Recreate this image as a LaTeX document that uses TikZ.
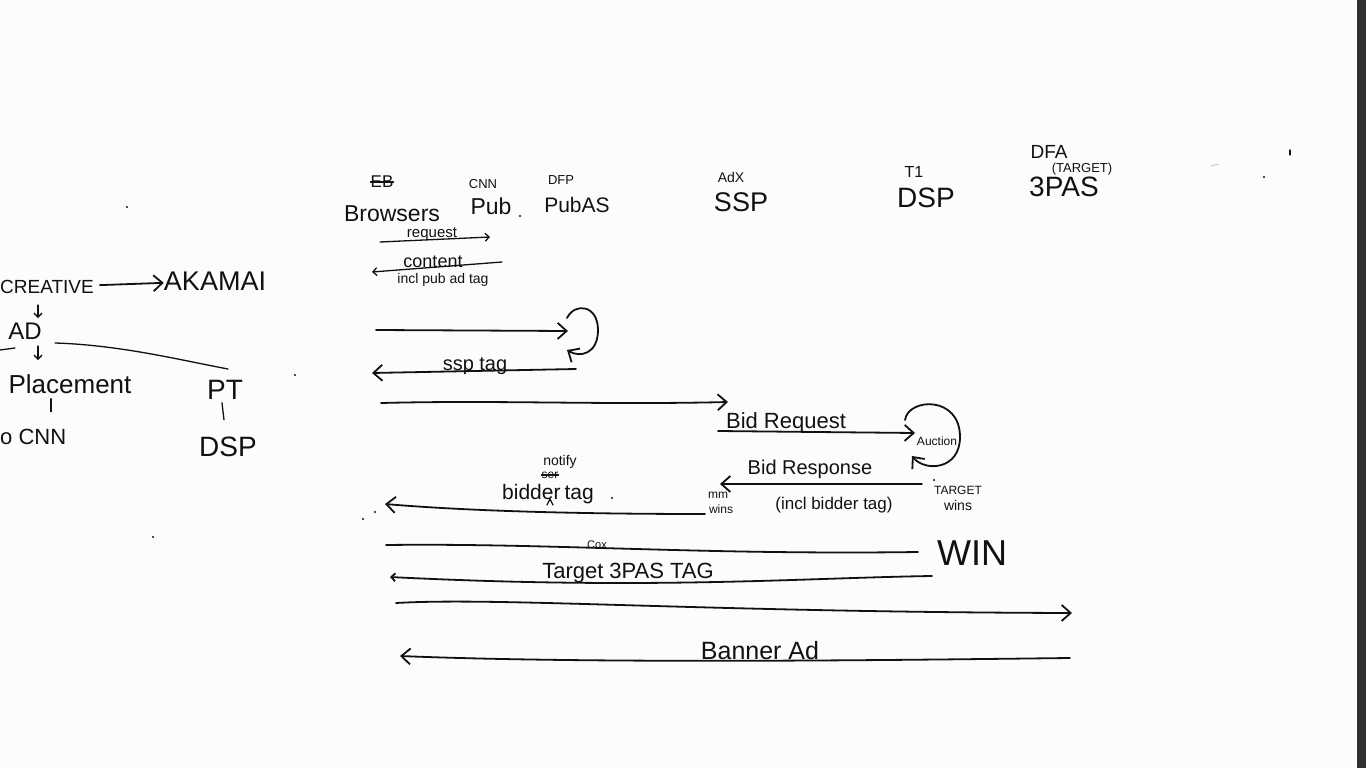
\documentclass[tikz,border=0pt]{standalone}
\usepackage{fontspec}
\setmainfont{Liberation Sans}
\usetikzlibrary{arrows.meta}
\definecolor{inkc}{HTML}{111111}
\definecolor{paperc}{HTML}{FCFCFC}
\definecolor{barc}{HTML}{303030}
\begin{document}
\begin{tikzpicture}[x=1pt,y=-1pt,
  pen/.style={draw=inkc,line width=1.8pt,line cap=round,line join=round},
  thin/.style={draw=inkc,line width=1.3pt,line cap=round,line join=round},
  arr/.style={pen,-{Straight Barb[length=9pt,width=16pt,line width=1.8pt]}},
  arrs/.style={thin,-{Straight Barb[length=4pt,width=8pt,line width=1.3pt]}},
  txt/.style={inner sep=0pt,text=inkc,font=\fontsize{#1}{#1}\selectfont},
  dot/.style={fill=inkc,draw=none}
]
\useasboundingbox (0,0) rectangle (1366,768);
\clip (0,0) rectangle (1366,768);
\fill[paperc] (0,0) rectangle (1366,768);
\fill[barc] (1357,0) rectangle (1366,768);

% ---------- headers ----------
\node[txt=17] (eb) at (382,182) {EB};
\draw[thin] (eb.west) -- (eb.east);
\node[txt=23] (browsers) at (392,214) {Browsers};
\node[txt=13] (cnn) at (483,184) {CNN};
\node[txt=23] (pub) at (491,206) {Pub};
\node[txt=13] (dfp) at (561,180) {DFP};
\node[txt=21] (pubas) at (577,205) {PubAS};
\node[txt=14] (adx) at (731,177) {AdX};
\node[txt=27] (ssp) at (741,202) {SSP};
\node[txt=16] (t1) at (914,172) {T1};
\node[txt=28] (dsp) at (926,198) {DSP};
\node[txt=19] (dfa) at (1049,152) {DFA};
\node[txt=13] (tgt) at (1082,169) {(TARGET)};
\node[txt=28] (tpas) at (1064,187) {3PAS};

% ---------- left tree ----------
\node[txt=19,anchor=west] (creative) at (0,287) {CREATIVE};
\node[txt=27] (akamai) at (215,281) {AKAMAI};
\draw[arr,shorten <=6pt] (creative) -- (akamai);
\node[txt=24] (ad) at (25,331) {AD};
\coordinate (ca1) at (38,305);
\coordinate (ca2) at (38,318);
\draw[arrs] (ca1) -- (ca2);
\node[txt=26] (placement) at (70,384) {Placement};
\coordinate (ap1) at (38,346);
\coordinate (ap2) at (38,360);
\draw[arrs] (ap1) -- (ap2);
\coordinate (ll1) at (0,350);
\coordinate (ll2) at (15,348);
\draw[thin] (ll1) -- (ll2);
\node[txt=28] (pt) at (225,390) {PT};
\coordinate (adr) at (55,343);
\coordinate (ptt) at (228,369);
\draw[thin] (adr) .. controls (120,345) and (180,360) .. (ptt);
\node[txt=22,anchor=west] (tocnn) at (0,437) {o CNN};
\draw[thin] (placement.south) ++(-19,5) -- ++(0,13);
\node[txt=28] (dspl) at (228,447) {DSP};
\draw[thin] (pt.south) ++(-3,3) -- ++(2,17);

% ---------- sequence ----------
% request
\coordinate (reqS) at (380,242);
\coordinate (reqE) at (490,237);
\draw[arrs] (reqS) -- (reqE);
\node[txt=15] (lreq) at (432,234) {request};
% content
\coordinate (conS) at (502,262);
\coordinate (conE) at (372,272);
\draw[arrs] (conS) -- (conE);
\node[txt=18] (lcon) at (433,262) {content};
\node[txt=14] (lincl) at (443,280) {incl pub ad tag};
% to PubAS + loop
\coordinate (a3S) at (376,330);
\coordinate (a3E) at (568,331);
\draw[arr] (a3S) -- (a3E);
\coordinate (lp1) at (567,318);
\coordinate (lp2) at (567,350);
\draw[arr] (lp1) .. controls (575,302) and (598,305) .. (598,330) .. controls (598,354) and (580,358) .. (lp2);
% ssp tag
\coordinate (sspS) at (576,369);
\coordinate (sspE) at (372,373);
\draw[arr] (sspS) -- (sspE);
\node[txt=20] (lssp) at (475,366) {ssp tag};
% to SSP
\coordinate (a5S) at (381,403);
\coordinate (a5E) at (728,402);
\draw[arr] (a5S) .. controls (500,400) and (600,405) .. (a5E);
% bid request + auction
\coordinate (bidS) at (718,431);
\coordinate (bidE) at (915,433);
\draw[arr] (bidS) -- (bidE);
\node[txt=22] (lbid) at (786,423) {Bid Request};
\node[txt=12] (auction) at (937,441) {Auction};
\coordinate (au1) at (905,420);
\coordinate (au2) at (912,456);
\draw[arr] (au1) .. controls (908,398) and (960,395) .. (960,437) .. controls (960,470) and (925,472) .. (au2);
% bid response
\coordinate (respS) at (922,484);
\coordinate (respE) at (720,484);
\draw[arr] (respS) -- (respE);
\node[txt=20] (lresp) at (810,469) {Bid Response};
\node[txt=17] (lresp2) at (834,505) {(incl bidder tag)};
\node[txt=12] (ltarget) at (958,490) {TARGET};
\node[txt=14] (lwins) at (958,505) {wins};
\fill[dot] (934,480) circle (1.1);
\node[txt=12] (lmm) at (718,495) {mm};
\node[txt=12] (lwins2) at (721,509) {wins};
% bidder tag
\coordinate (btS) at (705,514);
\coordinate (btE) at (385,504);
\draw[arr] (btS) .. controls (600,514) and (480,512) .. (btE);
\node[txt=21] (lbt) at (548,494) {bidder\hspace{4pt}tag};
\node[txt=14] (lnotify) at (560,462) {notify};
\node[txt=12] (lser) at (550,475) {ser};
\draw[thin] (lser.west) -- (lser.east);
\draw[thin] (547,505) -- (550,499) -- (553,505);
% win
\coordinate (wS) at (386,545);
\coordinate (wE) at (918,552);
\draw[pen] (wS) .. controls (550,543) and (700,555) .. (wE);
\node[txt=11] (lcox) at (597,545) {Cox};
\node[txt=36] (lwin) at (972,553) {WIN};
% target 3PAS tag
\coordinate (tS) at (932,576);
\coordinate (tE) at (390,577);
\draw[pen,-{Straight Barb[length=4pt,width=8pt,line width=1.8pt]}] (tS) .. controls (800,578) and (650,590) .. (tE);
\node[txt=22] (ltag) at (628,573) {Target\hspace{6pt}3PAS TAG};
% to 3PAS
\coordinate (a11S) at (396,603);
\coordinate (a11E) at (1072,613);
\draw[arr] (a11S) .. controls (500,597) and (700,612) .. (a11E);
% banner ad
\coordinate (bS) at (1070,658);
\coordinate (bE) at (400,656);
\draw[arr] (bS) .. controls (900,660) and (600,664) .. (bE);
\node[txt=25] (lban) at (760,651) {Banner Ad};

% ---------- stray marks ----------
\fill[dot] (127,207) circle (1.1);
\fill[dot] (295,375) circle (1.1);
\fill[dot] (153,537) circle (1.1);
\fill[dot] (1264,177) circle (1.1);
\fill[dot] (363,519) circle (1.1);
\fill[dot] (375,512) circle (1.1);
\fill[dot] (612,498) circle (1.1);
\fill[dot] (520,216) circle (1.1);
\draw[thin] (1290,150) -- (1290,155);
\draw[draw=gray!40,line width=1pt] (1211,166) -- (1219,164);
\end{tikzpicture}
\end{document}
